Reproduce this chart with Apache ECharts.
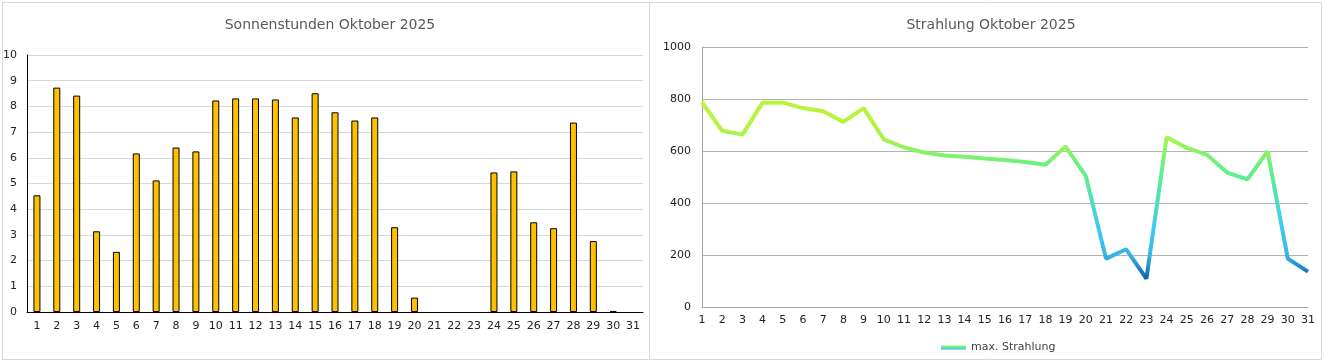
<!DOCTYPE html>
<html><head><meta charset="utf-8">
<script src="https://cdn.jsdelivr.net/npm/echarts@6/dist/echarts.min.js"></script>
<style>html,body{margin:0;padding:0;background:#fff}#c{width:1324px;height:363px}</style>
</head><body><div id="c"></div>
<script>
const days = ['1','2','3','4','5','6','7','8','9','10','11','12','13','14','15','16','17','18','19','20','21','22','23','24','25','26','27','28','29','30','31'];
const sunHours = [4.54,8.73,8.42,3.14,2.34,6.17,5.12,6.40,6.25,8.23,8.31,8.31,8.27,7.57,8.51,7.77,7.45,7.57,3.30,0.56,null,null,null,5.43,5.47,3.49,3.26,7.37,2.76,0.04,null];
const maxRadiation = [787,678,663,786,786,765,753,712,765,645,614,594,583,578,571,565,558,547,617,504,186,222,109,653,612,586,517,491,599,186,136];
const titles = ['Sonnenstunden Oktober 2025','Strahlung Oktober 2025'];
const legendName = 'max. Strahlung';

const chart = echarts.init(document.getElementById('c'), null, {renderer:'canvas'});
const tickFont = {fontFamily:'DejaVu Sans', fontSize:11, color:'#222'};
const lineGrad = new echarts.graphic.LinearGradient(0,0,0,1,[{offset:0,color:'#8cf264'},{offset:0.5,color:'#5cefa0'},{offset:1,color:'#3ab4e8'}]);
chart.setOption({
  animation:false,
  graphic:[
    {type:'rect', shape:{x:2.5,y:2.5,width:647,height:357}, style:{fill:'none',stroke:'#d9d9d9',lineWidth:1}, silent:true},
    {type:'rect', shape:{x:649.5,y:2.5,width:672,height:357}, style:{fill:'none',stroke:'#d9d9d9',lineWidth:1}, silent:true}
  ],
  title:[
    {text:titles[0], left:325, top:13, textAlign:'center', textStyle:{fontFamily:'DejaVu Sans', fontSize:14, fontWeight:'normal', color:'#595959'}},
    {text:titles[1], left:986, top:13, textAlign:'center', textStyle:{fontFamily:'DejaVu Sans', fontSize:14, fontWeight:'normal', color:'#595959'}}
  ],
  legend:{
    left:936, top:337, itemWidth:25, itemHeight:4, itemGap:6,
    icon:'rect',
    data:[{name:legendName, itemStyle:{color:lineGrad}}],
    textStyle:{fontFamily:'DejaVu Sans', fontSize:11, color:'#404040'}
  },
  grid:[
    {left:27, top:55, width:616, height:257},
    {left:702, top:47, width:606, height:260}
  ],
  xAxis:[
    {type:'category', gridIndex:0, data:days, boundaryGap:true,
     axisLine:{lineStyle:{color:'#000', width:1}}, axisTick:{show:false},
     axisLabel:Object.assign({interval:0, margin:9}, tickFont)},
    {type:'category', gridIndex:1, data:days, boundaryGap:false,
     axisLine:{lineStyle:{color:'#a6a6a6', width:1}}, axisTick:{show:false},
     axisLabel:Object.assign({interval:0, margin:8}, tickFont)}
  ],
  yAxis:[
    {type:'value', gridIndex:0, min:0, max:10, interval:1,
     axisLine:{show:true, lineStyle:{color:'#000'}}, axisTick:{show:false},
     splitLine:{lineStyle:{color:'#d9d9d9'}},
     axisLabel:Object.assign({margin:10}, tickFont)},
    {type:'value', gridIndex:1, min:0, max:1000, interval:200,
     axisLine:{show:true, lineStyle:{color:'#a6a6a6'}}, axisTick:{show:false},
     splitLine:{lineStyle:{color:'#b3b3b3'}},
     axisLabel:Object.assign({margin:11, formatter:function(v){return String(v);}}, tickFont)}
  ],
  visualMap:{
    show:false, type:'continuous', seriesIndex:1, dimension:1, min:100, max:800,
    inRange:{color:['#0a5fa3','#1f88c8','#35b4e8','#3cc0ef','#40c8f0','#44d2e0','#4ddcc0','#55e6a8','#5eee90','#6cf080','#8cf264','#a8f34c','#b4f440','#b8f43c','#bcf53a']}
  },
  series:[
    {type:'bar', xAxisIndex:0, yAxisIndex:0, data:sunHours, barWidth:7,
     itemStyle:{color:'#ffc000', borderColor:'#000', borderWidth:1}},
    {type:'line', name:legendName, xAxisIndex:1, yAxisIndex:1, data:maxRadiation,
     showSymbol:false, symbol:'none', lineStyle:{width:4}}
  ]
});
</script></body></html>
